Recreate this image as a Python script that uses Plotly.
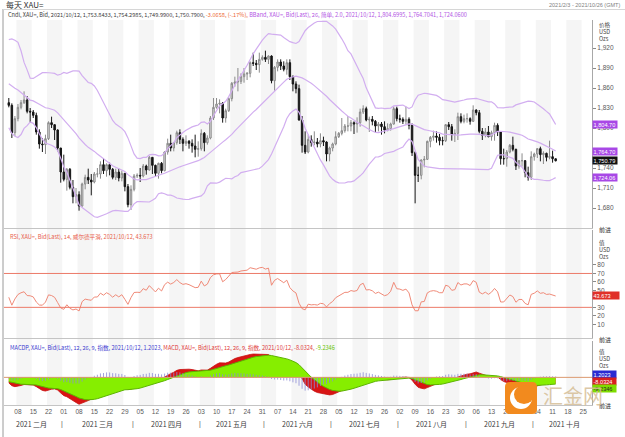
import numpy as np
import pandas as pd
import plotly.graph_objects as go
from plotly.subplots import make_subplots

# ---------------- data ----------------
# warm-up closes (2020-10-01 .. 2021-02-02) used only for the indicators
hist_close = [1906,1899,1913,1878,1887,1894,1930,1922,1891,1902,1908,1899,1905,1907,1924,1904,1902,1902,1908,1878,
              1868,1878,1894,1909,1904,1949,1951,1862,1877,1866,1873,1888,1887,1880,1872,1866,1871,1837,1807,1811,
              1811,1788,1776,1815,1831,1841,1838,1863,1870,1839,1836,1840,1827,1855,1863,1886,1881,1872,1871,1874,
              1877,1876,1876,1877,1893,1895,1895,1943,1950,1918,1913,1850,1844,1856,1845,1851,1828,1840,1840,1871,
              1869,1856,1856,1850,1843,1843,1848,1860,1838]

dates = pd.bdate_range("2021-02-03", "2021-10-12")

opens = [1838,1834,1793,1814,1831,1838,1842,1825,1824,1819,1794,1776,1775,1784,1808,1805,1797,1770,
         1734,1723,1738,1711,1697,1700,1683,1716,1726,1722,1719,1731,1731,1745,1736,1745,1738,1726,1734,1725,1732,1712,1685,
         1708,1728,1729,1728,1743,1737,1756,1744,1732,1747,1736,1764,1777,1770,1778,1793,1783,1777,1780,1777,1773,1768,
         1769,1792,1778,1785,1815,1831,1836,1837,1815,1826,1844,1867,1869,1870,1877,1881,1882,1898,1897,1895,1903,
         1906,1903,1908,1871,1891,1899,1893,1888,1898,1877,1866,1859,1812,1774,1764,1783,1778,1779,1776,1781,1779,1761,
         1770,1776,1787,1792,1796,1803,1803,1808,1806,1808,1824,1829,1812,1813,1810,1803,1806,1802,1797,1799,1806,1829,
         1814,1813,1810,1813,1804,1763,1729,1729,1752,1753,1780,1786,1788,1786,1781,1781,1805,1802,1790,1792,1817,1810,
         1814,1814,1810,1827,1823,1795,1789,1794,1787,1793,1804,1794,1754,1754,1764,1774,1768,1743,1751,1751,1733,1726,
         1757,1761,1769,1760,1762,1756,1757,1753.84]
highs = [1845,1837,1818,1836,1842,1855,1848,1830,1827,1823,1798,1785,1790,1810,1817,1805,1798,1770,
         1760,1740,1740,1722,1710,1705,1718,1730,1739,1731,1734,1740,1750,1755,1747,1748,1740,1739,1739,1736,1732,1716,1714,
         1731,1732,1740,1746,1745,1758,1756,1745,1748,1749,1765,1784,1790,1779,1796,1798,1786,1789,1782,1783,1790,1780,
         1798,1794,1789,1818,1845,1845,1843,1839,1829,1846,1869,1877,1890,1882,1890,1884,1900,1913,1902,1913,1909,
         1916,1909,1909,1893,1903,1903,1900,1903,1903,1879,1870,1865,1818,1795,1790,1789,1795,1785,1792,1787,1780,1772,
         1778,1795,1794,1815,1806,1818,1812,1810,1816,1829,1834,1832,1817,1818,1812,1809,1809,1810,1807,1808,1832,1832,
         1820,1816,1832,1816,1807,1765,1742,1753,1758,1781,1788,1796,1795,1791,1787,1806,1809,1806,1798,1823,1822,1820,
         1822,1816,1834,1828,1827,1800,1800,1803,1796,1808,1807,1795,1769,1767,1776,1787,1769,1752,1762,1752,1742,1765,
         1763,1770,1772,1765,1763,1781,1766,1754.30]
lows = [1831,1785,1788,1810,1828,1836,1822,1808,1815,1790,1769,1764,1761,1782,1800,1782,1765,1718,
        1720,1706,1708,1687,1687,1676,1682,1708,1716,1699,1717,1726,1724,1731,1727,1729,1723,1722,1720,1720,1705,1681,1677,
        1705,1725,1719,1726,1730,1736,1731,1727,1724,1732,1735,1760,1765,1765,1775,1776,1765,1773,1769,1763,1756,1757,
        1766,1765,1775,1783,1812,1829,1822,1808,1808,1824,1840,1862,1855,1866,1868,1872,1876,1893,1887,1883,1901,
        1899,1896,1867,1856,1885,1887,1885,1880,1872,1855,1852,1811,1763,1761,1762,1772,1774,1771,1771,1773,1750,1750,
        1765,1774,1785,1789,1793,1795,1795,1791,1793,1802,1821,1810,1794,1804,1794,1795,1790,1792,1795,1796,1805,1810,
        1808,1806,1805,1798,1758,1687,1719,1723,1741,1752,1771,1781,1778,1774,1774,1779,1797,1781,1779,1782,1807,1807,
        1808,1805,1809,1819,1792,1782,1786,1786,1781,1781,1788,1745,1745,1742,1762,1765,1737,1739,1742,1726,1721,1722,
        1751,1755,1750,1746,1750,1753,1748,1749.99]
closes = [1834,1793,1814,1831,1838,1842,1825,1824,1819,1794,1776,1775,1784,1808,1805,1797,1770,1734,
          1723,1738,1711,1697,1700,1683,1716,1726,1722,1719,1731,1731,1745,1736,1745,1738,1726,1734,1725,1732,1712,1685,1708,
          1728,1729,1728,1743,1737,1756,1744,1732,1747,1736,1764,1777,1770,1778,1793,1783,1777,1780,1777,1773,1768,1769,
          1792,1778,1785,1815,1831,1836,1837,1815,1826,1844,1867,1869,1870,1877,1881,1882,1898,1897,1895,1903,1906,
          1903,1908,1871,1891,1899,1893,1888,1898,1877,1866,1859,1812,1774,1764,1783,1778,1779,1776,1781,1779,1761,1770,
          1776,1787,1792,1796,1803,1803,1808,1806,1808,1824,1829,1812,1813,1810,1803,1806,1802,1797,1799,1806,1829,1814,
          1813,1810,1813,1804,1763,1729,1729,1752,1753,1780,1786,1788,1786,1781,1781,1805,1802,1790,1792,1817,1810,1814,
          1814,1810,1827,1823,1795,1789,1794,1787,1793,1804,1794,1754,1754,1764,1774,1768,1743,1751,1751,1733,1726,1757,
          1761,1769,1760,1762,1756,1757,1753.84,1750.79]

n = len(dates)
assert len(opens) == n and len(highs) == n and len(lows) == n and len(closes) == n, (n, len(opens), len(highs), len(lows), len(closes))

month_names = ["二月", "三月", "四月", "五月", "六月", "七月", "八月", "九月", "十月"]
price_ticks = [1680, 1710, 1740, 1800, 1830, 1860, 1890, 1920]
rsi_ticks = [10, 20, 30, 50, 60, 70, 80]
rsi_levels = [70, 30]

# ---------------- indicators (computed from the closes) ----------------
allc = pd.Series(hist_close + closes, dtype=float)
mid = allc.rolling(26).mean()
sd = allc.rolling(26).std(ddof=0)
bb_up = (mid + 2 * sd).iloc[-n:].values
bb_mid = mid.iloc[-n:].values
bb_lo = (mid - 2 * sd).iloc[-n:].values

d = allc.diff()
gain = d.clip(lower=0).ewm(alpha=1 / 14, adjust=False).mean()
loss = (-d.clip(upper=0)).ewm(alpha=1 / 14, adjust=False).mean()
rsi = (100 - 100 / (1 + gain / loss)).iloc[-n:].values

ema12 = allc.ewm(span=12, adjust=False).mean()
ema26 = allc.ewm(span=26, adjust=False).mean()
macd_s = ema12 - ema26
sig_s = macd_s.ewm(span=9, adjust=False).mean()
macd = macd_s.iloc[-n:].values
sig = sig_s.iloc[-n:].values
hist = macd - sig

x = np.arange(n)

all_days = pd.bdate_range("2021-02-01", "2021-10-29")
start_pos = list(all_days).index(dates[0])
day_idx = {dd: i - start_pos for i, dd in enumerate(all_days)}
mondays = [dd for dd in all_days if dd.weekday() == 0 and pd.Timestamp("2021-02-08") <= dd <= pd.Timestamp("2021-10-25")]
tickvals = [day_idx[m] for m in mondays]
ticktext = [m.strftime("%d") for m in mondays]

# ---------------- figure geometry ----------------
W, H = 625, 437
L, R, T, B = 4, 592, 20, 405

def px(v):
    return (v - L) / (R - L)

def py(v):
    return (B - v) / (B - T)

fig = make_subplots(rows=3, cols=1, shared_xaxes=True, vertical_spacing=0.0)

FONT = "Liberation Sans, Arial, Noto Sans CJK SC"
CJK = "Noto Sans CJK SC, Liberation Sans"

shapes = []
for k, tv in enumerate(tickvals):
    if k % 2 == 0:
        shapes.append(dict(type="rect", xref="x", yref="paper", x0=tv - 0.5, x1=tv + 4.5,
                           y0=0, y1=1, fillcolor="#f5f5f5", line=dict(width=0), layer="below"))

fig.add_trace(go.Candlestick(x=x, open=opens, high=highs, low=lows, close=closes,
                             increasing=dict(line=dict(color="#8a8a8a", width=1), fillcolor="#e2e2e2"),
                             decreasing=dict(line=dict(color="#161616", width=1), fillcolor="#161616"),
                             whiskerwidth=0, showlegend=False, hoverinfo="skip"), row=1, col=1)
bbcol = "#d2aef0"
for yy in (bb_up, bb_mid, bb_lo):
    fig.add_trace(go.Scatter(x=x, y=yy, mode="lines", line=dict(color=bbcol, width=1.2),
                             showlegend=False, hoverinfo="skip"), row=1, col=1)

fig.add_trace(go.Scatter(x=x, y=rsi, mode="lines", line=dict(color="#f08a78", width=1),
                         showlegend=False, hoverinfo="skip"), row=2, col=1)
for lv in rsi_levels:
    shapes.append(dict(type="line", xref="x2 domain", yref="y2", x0=0, x1=1, y0=lv, y1=lv,
                       line=dict(color="#ec7a68", width=1)))

fig.add_trace(go.Scatter(x=x, y=macd, mode="lines", fill="tozeroy", fillcolor="#d81414",
                         line=dict(color="#c81010", width=0.8), showlegend=False, hoverinfo="skip"), row=3, col=1)
fig.add_trace(go.Scatter(x=x, y=sig, mode="lines", fill="tozeroy", fillcolor="#86ee00",
                         line=dict(color="#5cb400", width=1), showlegend=False, hoverinfo="skip"), row=3, col=1)
hx, hy = [], []
for xi, hv in zip(x, hist):
    hx += [xi, xi, None]
    hy += [0, hv, None]
fig.add_trace(go.Scatter(x=hx, y=hy, mode="lines", line=dict(color="#8c8cd6", width=0.8),
                         showlegend=False, hoverinfo="skip"), row=3, col=1)
shapes.append(dict(type="line", xref="x3 domain", yref="y3", x0=0, x1=1, y0=0, y1=0,
                   line=dict(color="#dc9a70", width=1)))

shapes.append(dict(type="line", xref="paper", yref="paper", x0=px(3), x1=px(3), y0=py(437), y1=py(9),
                   line=dict(color="#9a9a9a", width=1)))
shapes.append(dict(type="line", xref="paper", yref="paper", x0=px(3), x1=px(625), y0=py(9.5), y1=py(9.5),
                   line=dict(color="#d6d6d6", width=1)))

# watermark logo
x0w, x1w, y0w, y1w, rr = 505, 537, 382, 414, 5
pts = [("M", x0w + rr, y0w), ("L", x1w - rr, y0w), ("Q", x1w, y0w, x1w, y0w + rr), ("L", x1w, y1w - rr),
       ("Q", x1w, y1w, x1w - rr, y1w), ("L", x0w + rr, y1w), ("Q", x0w, y1w, x0w, y1w - rr),
       ("L", x0w, y0w + rr), ("Q", x0w, y0w, x0w + rr, y0w)]
path = ""
for p in pts:
    if p[0] == "Q":
        path += f"Q{px(p[1])},{py(p[2])} {px(p[3])},{py(p[4])} "
    else:
        path += f"{p[0]}{px(p[1])},{py(p[2])} "
path += "Z"
shapes.append(dict(type="path", xref="paper", yref="paper", path=path, fillcolor="#f28a1e",
                   line=dict(width=0), layer="above"))
shapes.append(dict(type="circle", xref="paper", yref="paper", x0=px(510), x1=px(532), y0=py(409), y1=py(387),
                   fillcolor="white", line=dict(width=0), layer="above"))
shapes.append(dict(type="circle", xref="paper", yref="paper", x0=px(514), x1=px(534), y0=py(404), y1=py(385),
                   fillcolor="#f28a1e", line=dict(width=0), layer="above"))

ann = []

def add_text(xp, yp, text, size, color, xanchor="left", font=FONT):
    ann.append(dict(xref="paper", yref="paper", x=px(xp), y=py(yp), text=text, showarrow=False,
                    xanchor=xanchor, yanchor="middle", font=dict(size=size, color=color, family=font)))

add_text(4, 4.5, "每天 XAU=", 8, "#333333", font=CJK)
add_text(622, 4.5, "2021/2/3 - 2021/10/26 (GMT)", 5.5, "#808080", xanchor="right")
leg1 = ('<span style="color:#3c3c3c">Cndl, XAU=, Bid, 2021/10/12, 1,753.8433, 1,754.2985, 1,749.9900, 1,750.7900, </span>'
        '<span style="color:#ec6430">-3.0658, (-.17%), </span>'
        '<span style="color:#b255e4">BBand, XAU=, Bid(Last), 26, 简单, 2.0, 2021/10/12, 1,804.6995, 1,764.7041, 1,724.0600</span>')
add_text(6, 15, leg1, 5.6, "#3c3c3c", font=CJK)
add_text(8, 236.5, "RSI, XAU=, Bid(Last), 14, 威尔德平滑, 2021/10/12, 43.673", 5.6, "#e8604a", font=CJK)
leg3 = ('<span style="color:#3c3cd0">MACDP, XAU=, Bid(Last), 12, 26, 9, 指数, 2021/10/12, 1.2023, </span>'
        '<span style="color:#e03a3a">MACD, XAU=, Bid(Last), 12, 26, 9, 指数, 2021/10/12, -8.0324, </span>'
        '<span style="color:#66c400">-9.2346</span>')
add_text(8, 347.5, leg3, 5.6, "#3c3cd0", font=CJK)

for (yy, t) in [(25, "价格"), (32, "USD"), (39, "Ozs"), (243, "值"), (250, "USD"), (256.5, "Ozs"),
                (352, "值"), (359, "USD"), (366, "Ozs")]:
    add_text(597, yy, t, 5.6, "#444444", font=CJK)
for yy in (229, 339, 406):
    add_text(597, yy, "前进", 6, "#333333", font=CJK)

def vbox(yref, yv, text, bg, fc="white"):
    ann.append(dict(xref="paper", yref=yref, x=px(592), y=yv, text=text, showarrow=False,
                    xanchor="left", yanchor="middle", bgcolor=bg, borderpad=0.5,
                    font=dict(size=5.6, color=fc, family=FONT)))

vbox("y", bb_up[-1], "1,804.70 ", "#a848e6")
vbox("y", bb_mid[-1], "1,764.70 ", "#a848e6")
vbox("y", closes[-1], "1,750.79 ", "#111111")
vbox("y", bb_lo[-1], "1,724.06 ", "#a848e6")
vbox("y2", rsi[-1], "43.673     ", "#e03028")
for yy, t, bg, fc in [(374, "1.2023   ", "#2a2ad2", "white"), (381, "-8.0324  ", "#d82020", "white"),
                      (388, "-9.2346  ", "#7edc00", "#2a2a2a")]:
    add_text(592, yy, t, 5.6, fc)
    ann[-1].update(bgcolor=bg, borderpad=0.5)

for mi, mname in enumerate(month_names):
    mnum = mi + 2
    mdays = [dd for dd in all_days if dd.month == mnum]
    c = (day_idx[mdays[0]] + day_idx[mdays[-1]]) / 2
    ann.append(dict(xref="x3", yref="paper", x=c, y=py(423.5), text="2021 " + mname, showarrow=False,
                    xanchor="center", yanchor="middle", font=dict(size=7, color="#3a3a3a", family=CJK)))
    if mi > 0:
        ann.append(dict(xref="x3", yref="paper", x=day_idx[mdays[0]] - 0.5, y=py(423.5), text="|",
                        showarrow=False, xanchor="center", yanchor="middle",
                        font=dict(size=7, color="#555555", family=FONT)))

add_text(573, 395, "汇金网", 20, "rgba(214,190,150,0.85)", xanchor="center", font=CJK)

axis_common = dict(showgrid=False, zeroline=False, side="right", showline=True, linecolor="#a8a8a8",
                   ticks="outside", ticklen=3, tickcolor="#8a8a8a",
                   tickfont=dict(size=6.5, color="#5a5a5a", family=FONT))

fig.update_layout(
    width=W, height=H,
    margin=dict(l=L, r=W - R, t=T, b=H - B),
    paper_bgcolor="white", plot_bgcolor="white",
    showlegend=False,
    shapes=shapes, annotations=ann,
    font=dict(family=FONT),
    yaxis=dict(domain=[py(228), 1], range=[1650, 1962], tickvals=price_ticks, tickformat=",d", **axis_common),
    yaxis2=dict(domain=[py(338), py(230)], range=[-6.17, 121.3], tickvals=rsi_ticks, **axis_common),
    yaxis3=dict(domain=[0, py(341)], range=[-38, 50], tickvals=[], **axis_common),
)
xr = [-1.57, 190.9]
for ax in ("xaxis", "xaxis2", "xaxis3"):
    fig.layout[ax].update(range=xr, showgrid=False, zeroline=False, showline=True, linecolor="#c4c4c4",
                          rangeslider=dict(visible=False))
fig.layout.xaxis3.update(tickvals=tickvals, ticktext=ticktext, ticks="", showticklabels=True,
                         tickfont=dict(size=6.5, color="#5a5a5a", family=FONT))

fig.write_html("out.html", config={"displayModeBar": False},
               post_script="document.body.style.margin='0';document.body.style.padding='0';")
